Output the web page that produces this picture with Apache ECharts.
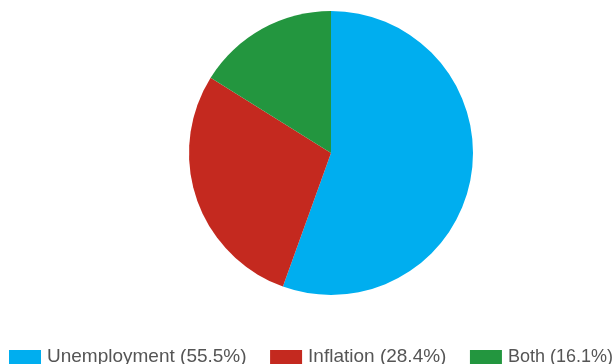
<!DOCTYPE html>
<html>
<head>
<meta charset="utf-8">
<script src="https://cdn.jsdelivr.net/npm/echarts@6/dist/echarts.min.js"></script>
<style>
  html, body { margin: 0; padding: 0; background: #fff; }
  #chart { width: 616px; height: 364px; }
</style>
</head>
<body>
<div id="chart"></div>
<script>
// Share of respondents naming each concern
const categories = ['Unemployment', 'Inflation', 'Both'];
const shares = [55.5, 28.4, 16.1];
const colors = ['#00AEEF', '#C4291F', '#23963F'];
const legendFontSizes = [19, 19, 18];

const chart = echarts.init(document.getElementById('chart'), null, { renderer: 'canvas' });

const labelFor = {};
categories.forEach((c, i) => { labelFor[c] = c + ' (' + shares[i].toFixed(1) + '%)'; });

chart.setOption({
  animation: false,
  color: colors,
  legend: {
    data: categories.map((c, i) => ({
      name: c,
      textStyle: {
        fontSize: legendFontSizes[i],
        lineHeight: 20,
        // the smaller label sits a touch high; nudge it onto the shared baseline
        padding: legendFontSizes[i] < 19 ? [2, 0, 0, 1] : [1, 0, 0, 1]
      }
    })),
    left: 9,
    top: 346,
    width: 700,
    padding: 0,
    itemWidth: 32,
    itemHeight: 14,
    itemGap: 23.5,
    icon: 'rect',
    textStyle: {
      fontFamily: 'Liberation Sans, Arial, sans-serif',
      fontSize: 19,
      lineHeight: 20,
      color: '#555555',
      padding: [1, 0, 0, 1]
    },
    formatter: name => labelFor[name]
  },
  series: [{
    type: 'pie',
    center: [331, 153],
    radius: 142,
    startAngle: 90,
    clockwise: true,
    label: { show: false },
    labelLine: { show: false },
    emphasis: { disabled: true },
    itemStyle: { borderWidth: 0 },
    data: categories.map((c, i) => ({ name: c, value: shares[i] }))
  }]
});
</script>
</body>
</html>
